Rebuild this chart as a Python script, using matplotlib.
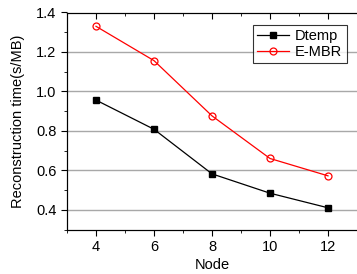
import numpy as np
import matplotlib.pyplot as plt
from matplotlib.ticker import MultipleLocator

plt.rcParams['font.family'] = ['Liberation Sans', 'DejaVu Sans']

nodes = [4, 6, 8, 10, 12]
dtemp = [0.956, 0.808, 0.582, 0.484, 0.41]
embr = [1.33, 1.156, 0.876, 0.66, 0.572]

fig = plt.figure(figsize=(3.57, 2.74), dpi=100)
ax = fig.add_axes([67 / 357, 1 - 229.5 / 274, 290 / 357, 217 / 274])

ax.plot(nodes, dtemp, color='black', lw=0.9, marker='s', ms=5, label='Dtemp')
ax.plot(nodes, embr, color='red', lw=0.9, marker='o', ms=5, mfc='none', mew=0.9, label='E-MBR')

ax.set_xlim(3, 13)
ax.set_ylim(0.3, 1.4)
ax.xaxis.set_major_locator(MultipleLocator(2))
ax.xaxis.set_minor_locator(MultipleLocator(1))
ax.yaxis.set_major_locator(MultipleLocator(0.2))
ax.yaxis.set_minor_locator(MultipleLocator(0.1))
ax.yaxis.set_major_formatter(plt.FormatStrFormatter('%.1f'))

ax.grid(axis='y', which='major', color='#a8a8a8', lw=1)
ax.set_axisbelow(True)
ax.tick_params(which='both', direction='out', labelsize=10.5, color='black')
ax.tick_params(which='major', length=4)
ax.tick_params(which='minor', length=2.5)
ax.spines['right'].set_visible(False)

# top axis ticks pointing inward
top = ax.twiny()
top.set_xlim(ax.get_xlim())
top.xaxis.set_major_locator(MultipleLocator(2))
top.xaxis.set_minor_locator(MultipleLocator(1))
top.tick_params(which='both', direction='in', labeltop=False)
top.tick_params(which='major', length=4)
top.tick_params(which='minor', length=2.5)
top.spines['right'].set_visible(False)

ax.set_xlabel('Node', fontsize=10.5, labelpad=3)
ax.set_ylabel('Reconstruction time(s/MB)', fontsize=10.5, labelpad=8)

leg = ax.legend(loc='upper right', bbox_to_anchor=(0.965, 0.942), fontsize=10.5,
                frameon=True, fancybox=False, edgecolor='black', handlelength=2.2,
                borderpad=0.3, labelspacing=0.1, handletextpad=0.4, borderaxespad=0)
leg.get_frame().set_linewidth(0.8)

fig.savefig('out.png', dpi=100)
